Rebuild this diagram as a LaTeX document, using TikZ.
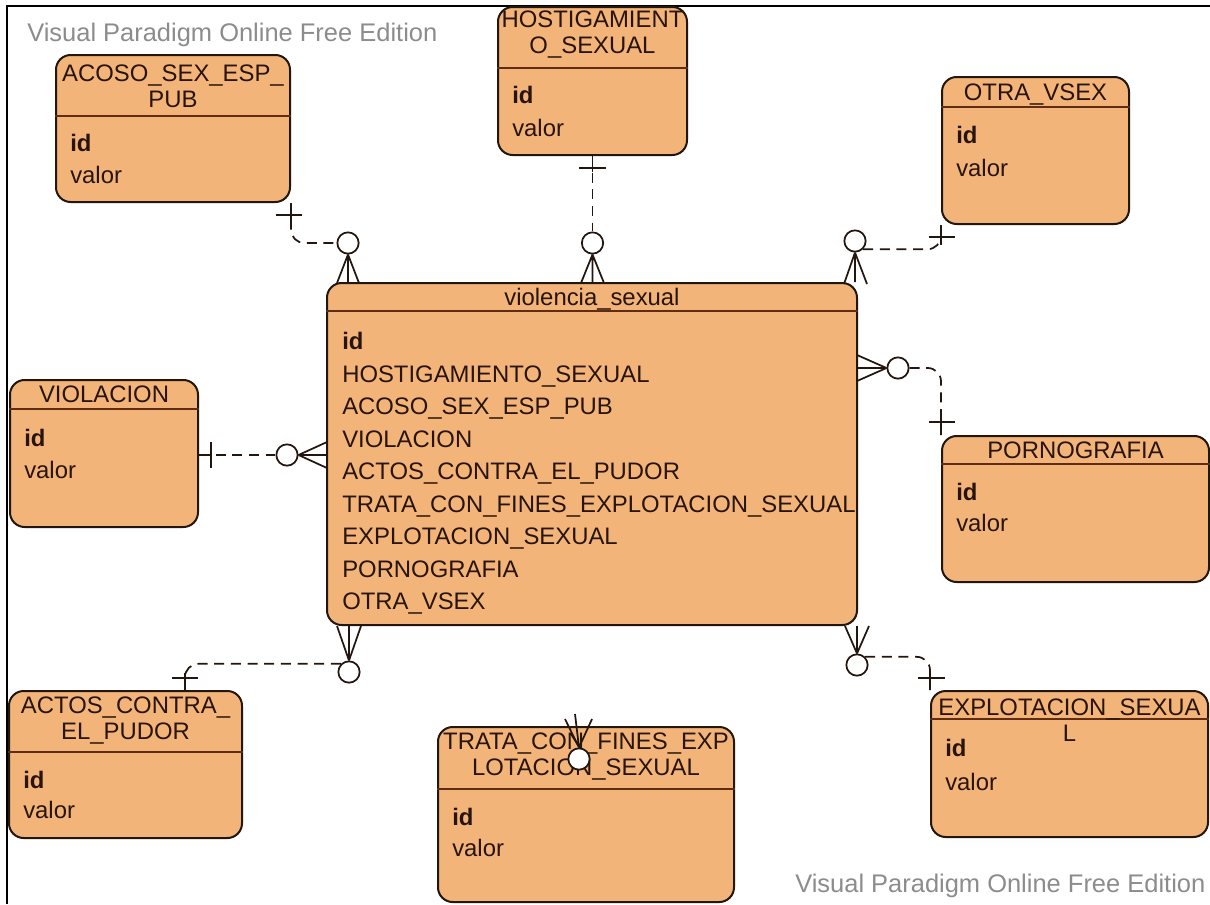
\documentclass[tikz,border=0pt]{standalone}
\usepackage{fontspec}
\setmainfont{Liberation Sans}
\usepackage{xcolor}
\usepackage{tikz}
\usetikzlibrary{positioning, fit}

\definecolor{naranja}{RGB}{242,180,120}
\definecolor{borde}{RGB}{35,22,15}
\definecolor{linea}{RGB}{95,45,20}
\definecolor{letra}{RGB}{40,20,10}
\definecolor{gris}{RGB}{140,140,140}

\tikzset{
  entidad/.style={draw=borde, fill=naranja, line width=1.5pt, rounded corners=11pt, inner sep=0pt},
  titulo/.style={text=letra, font=\fontsize{17.9}{19.5}\selectfont, align=center, inner sep=0pt},
  campo/.style={text=letra, font=\fontsize{17.9}{19.5}\selectfont, anchor=base west, inner sep=0pt},
  raya/.style={draw=linea, line width=1.5pt},
  rel/.style={draw=borde, line width=1.3pt},
  opc/.style={rel, dash pattern=on 7.5pt off 5pt},
  cero/.style={circle, draw=borde, fill=white, line width=1.3pt, minimum size=16pt, inner sep=0pt},
  aviso/.style={text=gris, font=\fontsize{19.1}{20}\selectfont, anchor=base west, inner sep=0pt}
}

\begin{document}
\begin{tikzpicture}[x=0.75pt,y=-0.75pt]
    \useasboundingbox (0,0) rectangle (1210,904);
    \draw[line width=1.5pt] (7,904) -- (7,6) -- (1210,6);

    \node[aviso] (vp1) at (27,41) {Visual Paradigm Online Free Edition};
    \node[aviso] (vp2) at (795,892) {Visual Paradigm Online Free Edition};

    % entidades
    \node[entidad, fit={(56,55) (290,202)}] (acoso) {};
    \draw[raya] (acoso.west |- 0,116) -- (acoso.east |- 0,116);
    \node[titulo] at (acoso.north |- 0,86) {ACOSO\_SEX\_ESP\_\\PUB};
    \node[campo] at (70,151.5) {\textbf{id}};
    \node[campo] at (70,183.5) {valor};

    \node[entidad, fit={(498,7) (687,155)}] (hostig) {};
    \draw[raya] (hostig.west |- 0,68) -- (hostig.east |- 0,68);
    \node[titulo] at (hostig.north |- 0,35) {HOSTIGAMIENT\\O\_SEXUAL};
    \node[campo] at (512,103.5) {\textbf{id}};
    \node[campo] at (512,136.5) {valor};

    \node[entidad, fit={(942,77) (1129,224)}] (otra) {};
    \draw[raya] (otra.west |- 0,107) -- (otra.east |- 0,107);
    \node[titulo, anchor=base] at (otra.north |- 0,100.5) {OTRA\_VSEX};
    \node[campo] at (956,143.5) {\textbf{id}};
    \node[campo] at (956,176.5) {valor};

    \node[entidad, fit={(327,283) (857,625)}] (centro) {};
    \draw[raya] (centro.west |- 0,311) -- (centro.east |- 0,311);
    \node[titulo, anchor=base] at (centro.north |- 0,305) {violencia\_sexual};
    \node[campo] at (342,349.5) {\textbf{id}};
    \foreach \t [count=\i] in {HOSTIGAMIENTO\_SEXUAL, ACOSO\_SEX\_ESP\_PUB, VIOLACION,
        ACTOS\_CONTRA\_EL\_PUDOR, TRATA\_CON\_FINES\_EXPLOTACION\_SEXUAL,
        EXPLOTACION\_SEXUAL, PORNOGRAFIA, OTRA\_VSEX}
        \node[campo] at (342,{349.5+32.5*\i}) {\t};

    \node[entidad, fit={(10,380) (198,527)}] (violacion) {};
    \draw[raya] (violacion.west |- 0,409) -- (violacion.east |- 0,409);
    \node[titulo, anchor=base] at (violacion.north |- 0,402.5) {VIOLACION};
    \node[campo] at (24,446.5) {\textbf{id}};
    \node[campo] at (24,478.5) {valor};

    \node[entidad, fit={(942,436) (1209,582)}] (porno) {};
    \draw[raya] (porno.west |- 0,464) -- (porno.east |- 0,464);
    \node[titulo, anchor=base] at (porno.north |- 0,458.5) {PORNOGRAFIA};
    \node[campo] at (956,500.5) {\textbf{id}};
    \node[campo] at (956,531.5) {valor};

    \node[entidad, fit={(9,691) (242,838)}] (actos) {};
    \draw[raya] (actos.west |- 0,752) -- (actos.east |- 0,752);
    \node[titulo] at (actos.north |- 0,721) {ACTOS\_CONTRA\_\\EL\_PUDOR};
    \node[campo] at (23,788.5) {\textbf{id}};
    \node[campo] at (23,818.5) {valor};

    \node[entidad, fit={(438,727) (734,902)}] (trata) {};
    \draw[raya] (trata.west |- 0,789) -- (trata.east |- 0,789);
    \node[titulo] at (trata.north |- 0,757) {TRATA\_CON\_FINES\_EXP\\LOTACION\_SEXUAL};
    \node[campo] at (452,825.5) {\textbf{id}};
    \node[campo] at (452,856.5) {valor};

    \node[entidad, fit={(931,691) (1208,837)}] (explot) {};
    \draw[raya] (explot.west |- 0,719) -- (explot.east |- 0,719);
    \node[titulo] at (explot.north |- 0,720) {EXPLOTACION\_SEXUA\\L};
    \node[campo] at (945,756.5) {\textbf{id}};
    \node[campo] at (945,790.5) {valor};

    % relaciones
    \node[cero] (o1) at (348,243) {};
    \draw[opc, rounded corners=10pt] (acoso.south east) |- (o1);
    \draw[rel] (acoso.south east) -- ++(0,20);
    \draw[rel] (276,215) -- (302,215);
    \draw[rel] (o1.south) -- (337,283) (o1.south) -- (359,283) (o1.south) -- (o1 |- centro.north);

    \node[cero] (o2) at (592.5,243) {};
    \draw[opc] (hostig.south) -- (o2);
    \draw[rel] (hostig.south) -- ++(0,16);
    \draw[rel] (579,168) -- (606,168);
    \draw[rel] (o2.south) -- (581,283) (o2.south) -- (604,283) (o2.south) -- (o2 |- centro.north);

    \node[cero] (o3) at (855,241) {};
    \draw[opc, rounded corners=10pt] (o3.south east) -| (otra.south west);
    \draw[rel] (otra.south west) -- ++(0,20);
    \draw[rel] (929,237) -- (955,237);
    \draw[rel] (o3.south) -- (844,284) (o3.south) -- (867,284) (o3.south) -- (o3 |- centro.north);

    \node[cero] (o4) at (287,455) {};
    \draw[opc] (violacion.east |- o4) -- (o4);
    \draw[rel] (violacion.east |- o4) -- ++(13,0);
    \draw[rel] (211,442) -- (211,468);
    \draw[rel] (o4.east) -- (327,442) (o4.east) -- (327,468) (o4.east) -- (centro.west |- o4);

    \node[cero] (o5) at (898,368) {};
    \draw[rel] (o5.west) -- (857,355) (o5.west) -- (857,381) (o5.west) -- (centro.east |- o5);
    \draw[opc, rounded corners=10pt] (o5.east) -| (porno.north west);
    \draw[rel] (porno.north west) -- ++(0,-18);
    \draw[rel] (929,422) -- (955,422);

    \coordinate (a6) at (185,691);
    \node[cero] (o6) at (349,672) {};
    \draw[rel] (o6.north) -- (337,626) (o6.north) -- (361,626) (o6.north) -- (o6 |- centro.south);
    \draw[opc, rounded corners=10pt] (o6.north west) -| (a6);
    \draw[rel] (a6) -- ++(0,-18);
    \draw[rel] (172,678) -- (198,678);

    \node[cero] (o7) at (579,759) {};
    \draw[rel] (o7.north) -- (565,719) (o7.north) -- (592,719) (o7.north) -- (575,714);

    \node[cero] (o8) at (857,665) {};
    \draw[rel] (o8.north) -- (845,626) (o8.north) -- (869,626) (o8.north) -- (o8 |- centro.south);
    \draw[opc, rounded corners=10pt] (o8.north east) -| (explot.north west);
    \draw[rel] (explot.north west) -- ++(0,-18);
    \draw[rel] (918,678) -- (945,678);
\end{tikzpicture}
\end{document}
